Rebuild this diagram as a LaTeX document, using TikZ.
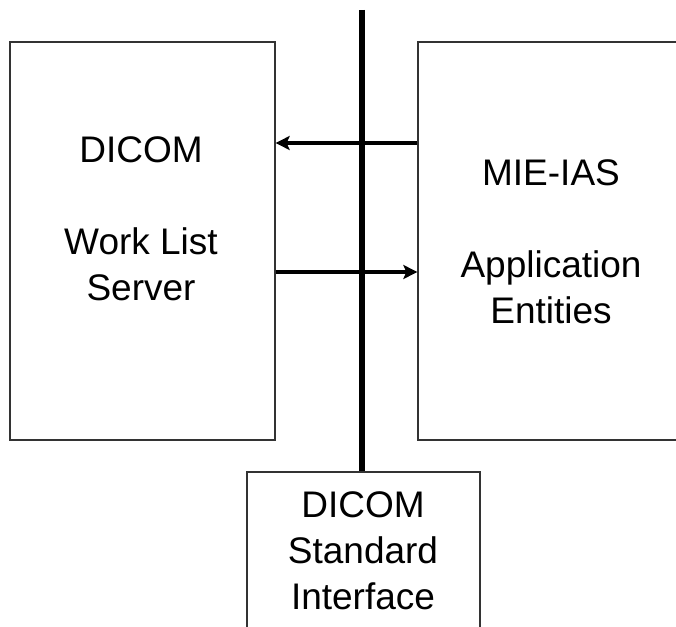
\documentclass[tikz,border=0pt]{standalone}
\usepackage{fontspec}
\setmainfont{Liberation Sans}
\usetikzlibrary{arrows.meta}
\begin{document}
\begin{tikzpicture}[x=1pt,y=-1pt,
  box/.style={draw=black!80, line width=1.3pt, fill=white, rectangle, inner sep=0pt},
  lbl/.style={align=center, font=\fontsize{37}{46}\selectfont, inner sep=0pt},
  bus/.style={line width=6.5pt, line cap=butt},
  msg/.style={line width=3.6pt, -{Stealth[length=14pt,width=14pt,inset=3pt]}}]
\useasboundingbox (0,0) rectangle (676,626);
\clip (0,0) rectangle (676,626);
% boxes
\node[box, minimum width=265pt, minimum height=398pt] (ws) at (142.5,241) {};
\node[box, minimum width=300pt, minimum height=398pt] (mie) at (568,241) {};
\node[box, minimum width=233pt, minimum height=200pt] (std) at (363.5,572) {};
% labels
\node[lbl] (wst) at (141,219) {DICOM\\[46pt]Work List\\Server};
\node[lbl] (miet) at (551,242) {MIE-IAS\\[46pt]Application\\Entities};
\node[lbl] (stdt) at (363,551) {DICOM\\Standard\\Interface};
% bus
\coordinate (bustop) at (362,10);
\draw[bus] (bustop) -- (bustop |- std.north);
% messages
\draw[msg] (mie.west |- 0,143) -- (ws.east |- 0,143);
\draw[msg] (ws.east |- 0,272) -- (mie.west |- 0,272);
\end{tikzpicture}
\end{document}
